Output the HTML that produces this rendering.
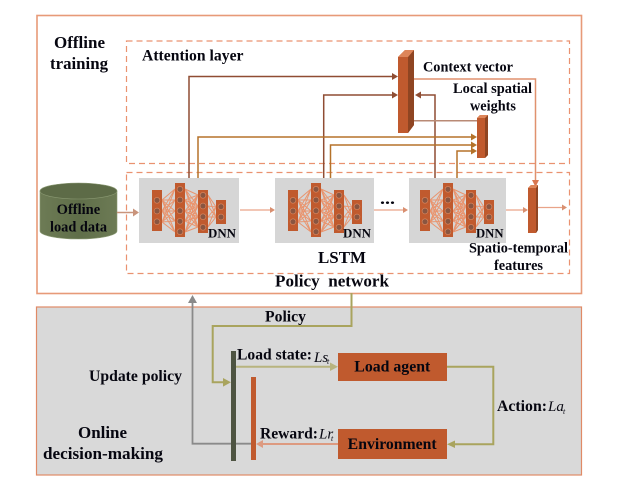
<!DOCTYPE html>
<html><head><meta charset="utf-8"><style>
html,body{margin:0;padding:0;background:#fff;width:624px;height:479px;overflow:hidden}
svg{display:block}
text{font-family:"Liberation Serif",serif;font-weight:bold;font-size:15.6px;fill:#060610}
.m{font-size:14.3px}
.l{font-size:17px}
.d{font-size:13px}
.i{font-style:italic;font-weight:normal;font-size:15px}
.s{font-style:italic;font-weight:normal;font-size:8px}
</style></head><body>
<svg width="624" height="479" viewBox="0 0 624 479" xmlns="http://www.w3.org/2000/svg">
<defs>
<g id="net">
<path fill="none" stroke="#e9946e" stroke-width="1" d="M162 200L175 189M162 200L175 200M162 200L175 211M162 200L175 221M162 200L175 232M162 211L175 189M162 211L175 200M162 211L175 211M162 211L175 221M162 211L175 232M162 222L175 189M162 222L175 200M162 222L175 211M162 222L175 221M162 222L175 232M185 189L198 195M185 189L198 206M185 189L198 217M185 189L198 227M185 200L198 195M185 200L198 206M185 200L198 217M185 200L198 227M185 211L198 195M185 211L198 206M185 211L198 217M185 211L198 227M185 221L198 195M185 221L198 206M185 221L198 217M185 221L198 227M185 232L198 195M185 232L198 206M185 232L198 217M185 232L198 227M208 195L216 207M208 195L216 217M208 206L216 207M208 206L216 217M208 217L216 207M208 217L216 217M208 227L216 207M208 227L216 217"/>
<g fill="#c05a2e"><rect x="152" y="190" width="10" height="41"/><rect x="175" y="183" width="10" height="54"/><rect x="198" y="190" width="10" height="43"/><rect x="216" y="200" width="10" height="24"/></g>
<g fill="#8a5540" stroke="#d98a63" stroke-width=".6"><circle cx="157" cy="200.300" r="2.900"/><circle cx="157" cy="211" r="2.900"/><circle cx="157" cy="221.700" r="2.900"/><circle cx="180" cy="189.300" r="2.900"/><circle cx="180" cy="200" r="2.900"/><circle cx="180" cy="210.700" r="2.900"/><circle cx="180" cy="221.300" r="2.900"/><circle cx="180" cy="231.700" r="2.900"/><circle cx="203" cy="195.300" r="2.900"/><circle cx="203" cy="206" r="2.900"/><circle cx="203" cy="216.700" r="2.900"/><circle cx="203" cy="227.300" r="2.900"/><circle cx="221" cy="206.700" r="2.900"/><circle cx="221" cy="217" r="2.900"/></g>
</g>
<linearGradient id="cyl" x1="0" x2="1" y1="0" y2="0"><stop offset="0" stop-color="#6d7b55"/><stop offset=".5" stop-color="#5f6e49"/><stop offset="1" stop-color="#6d7b55"/></linearGradient>
</defs>

<rect x="37" y="15.500" width="544.500" height="278" fill="#fff" stroke="#e79a78" stroke-width="1.600"/>
<rect x="36.500" y="307" width="545" height="168" fill="#d9d9d9" stroke="#e08a66" stroke-width="1.200"/>

<rect x="126.500" y="41" width="443" height="122.500" fill="none" stroke="#ea9270" stroke-width="1.200" stroke-dasharray="6 4"/>
<rect x="126.500" y="172.500" width="443" height="101" fill="none" stroke="#ea9270" stroke-width="1.200" stroke-dasharray="6 4"/>

<rect x="139" y="178" width="100" height="65" fill="#d6d6d6"/>
<rect x="275" y="178" width="99" height="65" fill="#d6d6d6"/>
<rect x="409" y="178" width="97" height="65" fill="#d6d6d6"/>
<use href="#net"/>
<use href="#net" transform="translate(136 0)"/>
<use href="#net" transform="translate(268 0)"/>

<!-- cylinder -->
<path d="M40 191V231A38.500 8 0 0 0 117 231V191Z" fill="url(#cyl)" stroke="#8b9a73" stroke-width=".6"/>
<ellipse cx="78.500" cy="191" rx="38.500" ry="8" fill="#5d6b47" stroke="#8b9a73" stroke-width=".6"/>

<!-- flow arrows -->
<g fill="none">
<path d="M117 212.500H134" stroke="#c9947c" stroke-width="1.600"/>
<path d="M240 210H271M374 210H404M506 210H524M538 207.500H563" stroke="#e9a389" stroke-width="1.300"/>
</g>
<g fill="#d98f70">
<path d="M139 212.500L133 208.500V216.500Z" fill="#c9947c"/>
<path d="M275 210L270 207V213Z"/><path d="M408 210L403 207V213Z"/><path d="M528 210L523 207V213Z"/><path d="M567 207.500L562 204.500V210.500Z"/>
</g>

<!-- brown / amber connectors -->
<g fill="none" stroke-width="1.500">
<path d="M189 178V76.500H394M323.700 178V95H394M435 178V95H419" stroke="#8f4d33"/>
<path d="M198 178V137H473M330.500 178V145H473M457 178V151H473" stroke="#b5722a"/>
<path d="M414 120.700H477" stroke="#b98a75"/>
<path d="M414 79H535.500V183" stroke="#e0916e"/>
</g>
<g fill="#8f4d33"><path d="M398 76.500L392 73V80Z"/><path d="M398 95L392 91.500V98.500Z"/><path d="M415 95L421 91.500V98.500Z"/></g>
<g fill="#b5722a"><path d="M477 137L471 133.500V140.500Z"/><path d="M477 145L471 141.500V148.500Z"/><path d="M477 151L471 147.500V154.500Z"/></g>
<path d="M535.500 187L532 180H539Z" fill="#d9764f"/>

<!-- 3D bars -->
<path d="M398 57L405 50H414V125L408 133H398Z" fill="#c05a2e"/>
<path d="M408 57L414 50V125L408 133Z" fill="#8f4522"/>
<path d="M398 57L405 50H414L408 57Z" fill="#dd8559"/>
<path d="M477 118L480 115H488V155L485 158H477Z" fill="#c05a2e"/>
<path d="M485 118L488 115V155L485 158Z" fill="#8f4522"/>
<path d="M477 118L480 115H488L485 118Z" fill="#dd8559"/>
<path d="M528 188L531 185H538V230L536 233H528Z" fill="#c05a2e"/>
<path d="M536 188L538 185V230L536 233Z" fill="#8f4522"/>
<path d="M528 188L531 185H538L536 188Z" fill="#dd8559"/>

<!-- bottom panel -->
<g fill="none">
<path d="M192.500 300V443.700H251" stroke="#8a8a8a" stroke-width="1.800"/>
<path d="M351.500 293V326H212.700V382.300H227" stroke="#a9a45e" stroke-width="2"/>
<path d="M236 366.700H332" stroke="#b8b47f" stroke-width="2"/>
<path d="M447 366.700H493.300V444.300H453" stroke="#a9a45e" stroke-width="2"/>
<path d="M338 444H262" stroke="#dd9a80" stroke-width="2"/>
</g>
<path d="M192.500 295L188 303H197Z" fill="#8a8a8a"/>
<path d="M231 382.300L223 378V386.600Z" fill="#a9a45e"/>
<path d="M338 366.700L330 362.500V371Z" fill="#b8b47f"/>
<path d="M447 444.300L455 440.500V448Z" fill="#a9a45e"/>
<path d="M256 444L263 440V448Z" fill="#dd9a80"/>
<rect x="231" y="351" width="5" height="110" fill="#4e5442"/>
<rect x="251" y="377" width="5" height="83" fill="#c05a2e"/>
<rect x="338" y="353" width="109" height="28" fill="#c05a2e"/>
<rect x="338" y="429" width="109" height="30" fill="#c05a2e"/>

<!-- labels -->
<text x="54" y="48" class="l" textLength="51" lengthAdjust="spacingAndGlyphs">Offline</text>
<text x="50" y="69" class="l" textLength="58" lengthAdjust="spacingAndGlyphs">training</text>
<text x="142" y="60.700" textLength="101.500" lengthAdjust="spacingAndGlyphs">Attention layer</text>
<text x="423" y="71.700" class="m" textLength="90" lengthAdjust="spacingAndGlyphs">Context vector</text>
<text x="453" y="93" class="m" textLength="79" lengthAdjust="spacingAndGlyphs">Local spatial</text>
<text x="470" y="110.500" class="m" textLength="46" lengthAdjust="spacingAndGlyphs">weights</text>
<text x="56.700" y="214" class="m" textLength="43.500" lengthAdjust="spacingAndGlyphs">Offline</text>
<text x="50" y="231.500" class="m" textLength="57" lengthAdjust="spacingAndGlyphs">load data</text>
<text x="208" y="237.700" class="d" textLength="28" lengthAdjust="spacingAndGlyphs">DNN</text>
<text x="343" y="237.700" class="d" textLength="28" lengthAdjust="spacingAndGlyphs">DNN</text>
<text x="476" y="237.700" class="d" textLength="27.500" lengthAdjust="spacingAndGlyphs">DNN</text>
<text x="380" y="204" textLength="15" lengthAdjust="spacingAndGlyphs" style="font-size:16px">...</text>
<text x="469" y="252.700" class="m" style="font-size:14.900px" textLength="99" lengthAdjust="spacingAndGlyphs">Spatio-temporal</text>
<text x="494" y="270" class="m" textLength="49" lengthAdjust="spacingAndGlyphs">features</text>
<text x="318" y="263" class="l" textLength="48" lengthAdjust="spacingAndGlyphs">LSTM</text>
<text x="275" y="286.700" class="l" textLength="114" lengthAdjust="spacingAndGlyphs" style="white-space:pre">Policy  network</text>
<text x="265" y="321.700" textLength="41" lengthAdjust="spacingAndGlyphs">Policy</text>
<text x="237" y="359.300" textLength="75" lengthAdjust="spacingAndGlyphs">Load state:</text>
<text x="314" y="362" class="i">Ls</text><text x="327" y="364" class="s">t</text>
<text x="260" y="438.300" textLength="58" lengthAdjust="spacingAndGlyphs">Reward:</text>
<text x="319" y="438.300" class="i">Lr</text><text x="331" y="441" class="s">t</text>
<text x="354.300" y="371.700" textLength="76" lengthAdjust="spacingAndGlyphs">Load agent</text>
<text x="347.700" y="449" textLength="89" lengthAdjust="spacingAndGlyphs">Environment</text>
<text x="497" y="411" textLength="50" lengthAdjust="spacingAndGlyphs">Action:</text>
<text x="548" y="411" class="i">La</text><text x="563" y="414" class="s">t</text>
<text x="89" y="381" textLength="93" lengthAdjust="spacingAndGlyphs">Update policy</text>
<text x="78" y="438" class="l" textLength="49" lengthAdjust="spacingAndGlyphs">Online</text>
<text x="43" y="459" class="l" textLength="120" lengthAdjust="spacingAndGlyphs">decision-making</text>
</svg>
</body></html>
